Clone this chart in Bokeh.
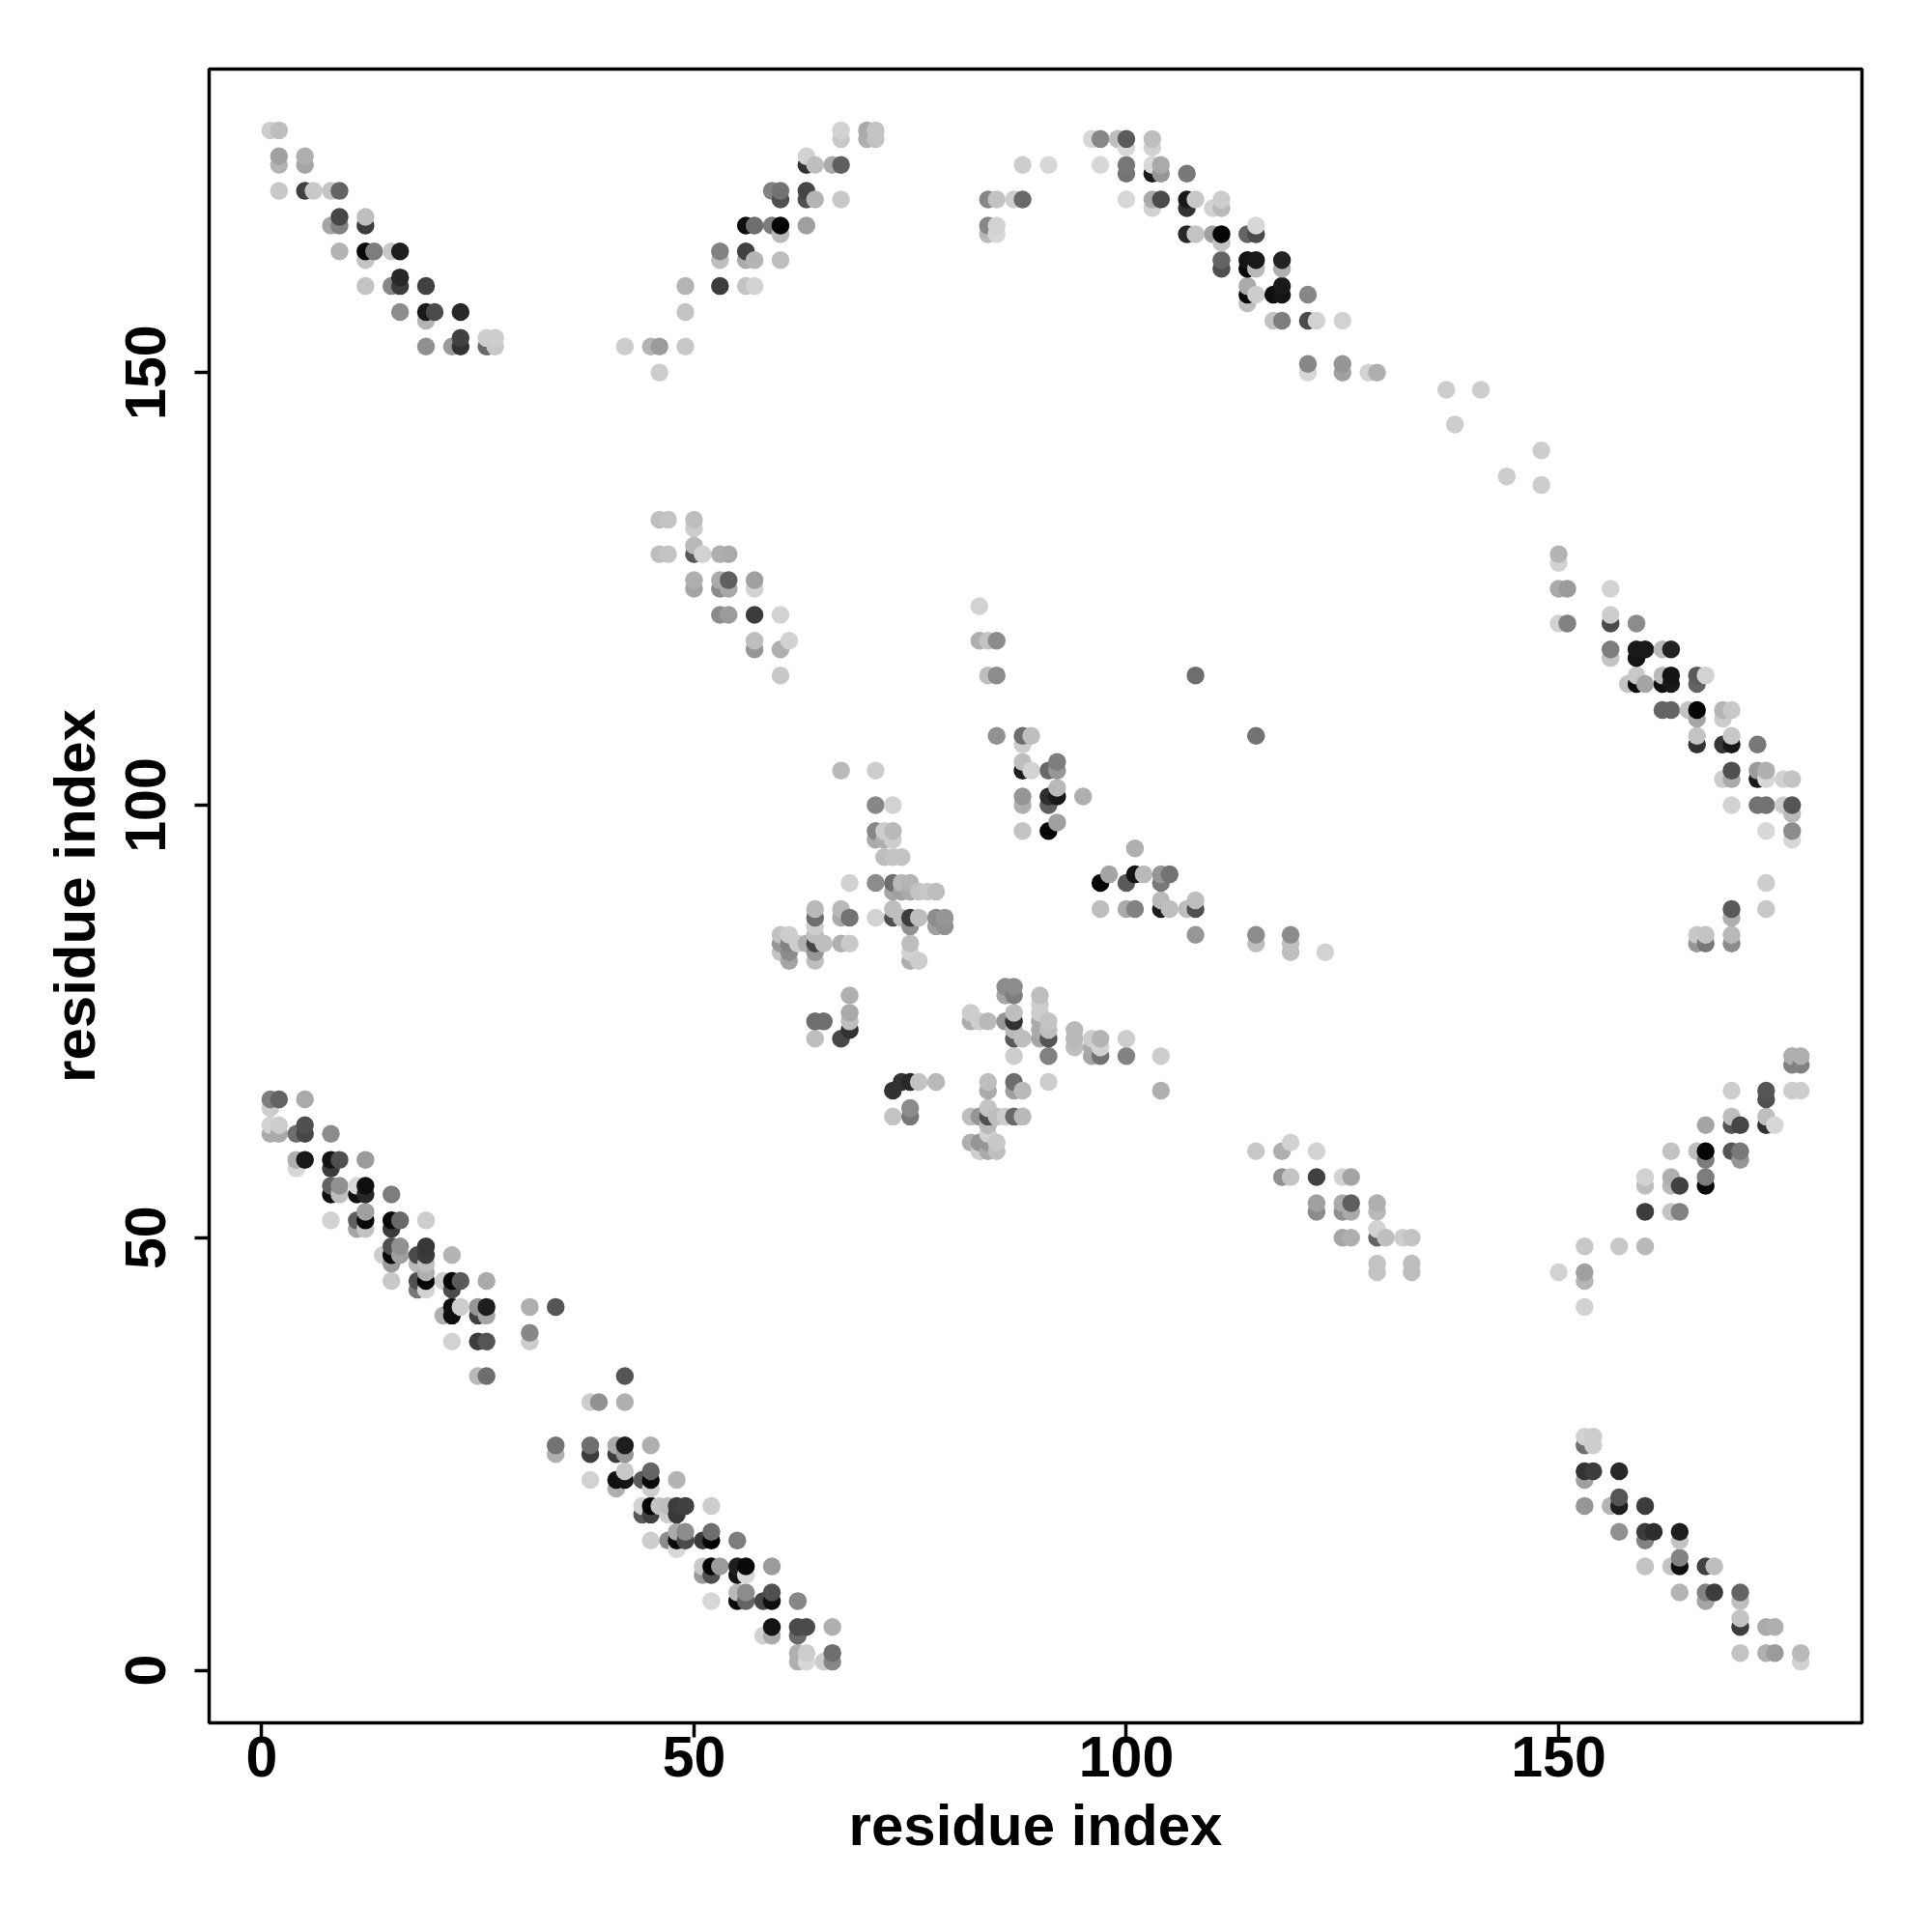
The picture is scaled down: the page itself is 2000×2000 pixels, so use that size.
from bokeh.embed import file_html
from bokeh.models import ColumnDataSource, FixedTicker, Range1d
from bokeh.plotting import figure
from bokeh.resources import INLINE

# Each contact: (residue x, residue y, grey level)
top_left = [
(1,178,205),(2,178,190),(2,175,160),(2,174,180),(5,175,175),(5,174,165),(2,171,200),(5,171,65),(6,171,200),
(8,171,195),(9,171,100),(8,167,165),(9,167,130),(9,168,70),(12,167,60),(12,168,190),(9,164,180),(12,164,10),
(12,163,195),(13,164,125),(15,164,200),(16,164,30),(12,160,195),(15,160,135),(16,160,60),(16,161,40),(19,160,65),
(16,157,140),(19,157,25),(19,156,180),(20,157,75),(23,157,40),(19,153,145),(22,153,155),(23,153,50),(23,154,65),
(26,153,105),(26,154,205),(27,154,205),(27,153,200),
]
top_mid = [
(42,153,205),(45,153,180),(46,153,155),(49,153,200),(46,150,205),(49,157,195),(49,160,180),(53,160,60),(56,160,195),
(57,160,210),(60,163,190),(57,163,180),(56,163,170),(56,164,65),(53,163,190),(53,164,130),(56,167,15),(57,167,110),
(59,167,125),(60,167,5),(60,166,185),(63,167,160),(59,171,130),(60,171,115),(60,170,80),(63,171,70),(63,170,80),
(64,170,180),(67,170,200),(63,175,210),(63,174,50),(64,174,190),(66,174,170),(67,174,95),(67,178,210),(67,177,200),
(70,178,170),(70,177,175),(71,178,195),(71,177,195),
]
top_right = [
(88,174,205),(91,174,215),(84,170,135),(85,170,195),(87,170,205),(88,170,105),(84,167,135),(84,166,185),(85,167,210),
(85,166,215),(96,177,215),(97,177,135),(99,177,190),(100,177,90),(100,176,215),(103,177,190),(103,176,210),(97,174,215),
(100,174,120),(100,173,115),(103,174,215),(103,173,25),(104,174,170),(104,173,150),(107,173,120),(100,170,215),
(103,170,170),(103,169,210),(104,170,75),(107,170,25),(107,169,50),(108,170,200),(110,169,210),(111,170,205),
(111,169,185),(107,166,40),(108,166,195),(110,166,160),(111,166,5),(111,165,195),(114,166,100),(115,166,75),
(115,167,215),(111,163,100),(111,162,80),(114,163,20),(114,162,10),(115,163,25),(115,162,185),(118,163,35),
(118,162,175),(114,160,170),(114,159,10),(114,158,190),(115,159,205),(117,159,15),(118,159,20),(118,160,25),
(121,159,135),(117,156,195),(118,156,125),(121,156,75),(122,156,210),(125,156,210),(121,151,135),(121,150,215),
(125,151,150),(125,150,160),(128,150,210),(129,150,175),
(137,148,205),(141,148,205),(138,144,205),(144,138,205),(148,141,205),(148,137,205),
]
mid_upper_left = [
(46,133,190),(47,133,195),(50,133,190),(50,132,205),(46,129,190),(47,129,195),(50,130,185),(50,129,90),(51,129,210),
(53,129,175),(54,129,170),(50,126,175),(50,125,165),(53,126,170),(53,125,140),(54,126,95),(54,125,170),(57,126,160),
(57,125,210),(53,122,140),(54,122,155),(57,122,60),(60,122,210),(57,119,190),(57,118,150),(60,118,175),(61,119,210),
(60,115,200),
]
right_upper = [
(150,129,180),(150,128,210),(150,125,170),(151,125,155),(156,125,210),(150,121,210),(151,121,130),(156,122,205),
(156,121,75),(159,121,140),(156,118,125),(156,117,195),(159,118,25),(159,117,20),(160,118,25),(162,118,185),(163,118,35),
(158,114,195),(159,115,200),(159,114,10),(160,114,165),(162,115,185),(162,114,15),(163,115,20),(163,114,25),
(166,115,90),(166,114,100),(167,115,210),(162,111,100),(163,111,100),(165,111,195),(166,111,5),(166,110,165),
(169,111,180),(169,110,205),(170,111,200),(166,108,195),(166,107,50),(169,107,55),(170,108,200),(170,107,25),
(173,107,120),(169,103,205),(170,104,80),(170,103,170),(173,104,155),(173,103,25),(174,104,175),(174,103,215),
(176,103,210),(177,103,195),(170,100,210),(173,100,115),(174,100,115),(176,100,205),(177,100,85),(177,99,185),
(174,97,215),(177,97,140),(177,96,215),
(166,84,150),(167,84,120),(166,85,200),(167,85,195),(170,88,90),(170,87,175),(170,85,185),(170,84,140),(174,88,200),(174,91,205),
]
centre_upper = [
(83,123,210),(83,119,175),(84,119,195),(85,119,140),(84,115,190),(85,115,140),(108,115,110),(85,108,145),(88,108,110),
(88,107,205),(89,108,190),(115,108,115),(88,105,190),(88,104,30),(89,104,210),(91,104,105),(92,105,125),(92,104,150),
(88,101,150),(88,100,175),(91,101,45),(91,100,95),(92,102,185),(92,101,25),(95,101,175),(88,97,195),(91,97,5),(92,98,160),
(101,95,175),(97,91,5),(98,92,165),(97,88,190),(100,88,170),(100,91,90),(101,92,20),(102,92,185),(101,88,130),(104,91,120),
(104,92,150),(105,92,115),(104,89,185),(104,88,30),(105,88,190),(107,88,190),(108,89,190),(108,88,80),(108,85,150),
(115,85,140),(115,84,190),(119,85,140),(119,84,190),(119,83,190),(123,83,210),
]
centre_left = [
(67,104,185),(71,104,205),(71,100,135),(73,100,210),(71,97,135),(71,96,170),(72,97,205),(72,96,175),(73,97,185),(73,96,205),
(72,94,190),(73,94,195),(74,94,195),(68,91,210),(71,91,140),(73,91,110),(73,90,165),(74,91,185),(74,90,160),(75,91,180),
(75,90,170),(76,90,195),(77,90,200),(78,90,190),(64,88,185),(64,87,110),(64,86,205),(67,88,185),(67,87,170),(68,87,115),
(71,87,210),(73,88,190),(73,87,80),(74,87,190),(75,87,60),(76,87,190),(75,86,145),(78,87,140),(78,86,160),(79,87,150),
(79,86,145),(75,84,190),(75,83,210),(75,82,175),(76,82,205),(67,84,175),(68,84,200),(60,85,195),(60,84,150),(60,83,195),
(61,85,205),(61,84,130),(61,83,140),(61,82,165),(62,84,205),(63,84,175),(64,84,70),(64,85,190),(64,83,150),(64,82,190),(65,84,190),
]
centre_lower = [
(86,79,140),(86,78,165),(87,79,140),(87,78,125),(90,78,190),(90,77,205),(90,76,205),(90,75,170),(90,74,170),(90,73,165),
(91,75,195),(91,74,190),(91,73,85),(82,76,205),(82,75,175),(83,75,205),(84,75,185),(86,75,150),(87,76,190),(87,75,50),
(87,74,185),(87,73,90),(88,73,190),(87,71,205),(91,71,130),(94,74,185),(94,73,185),(94,72,190),(96,73,205),(96,72,170),
(96,71,165),(97,73,180),(97,72,210),(97,71,115),(100,73,205),(100,71,130),(104,71,205),(104,67,175),(78,68,185),(84,68,190),
(84,67,170),(87,68,110),(87,67,160),(88,67,185),(91,68,205),(82,64,190),(83,64,150),(84,65,195),(84,64,80),(84,63,185),
(85,64,190),(86,64,205),(87,64,105),(88,64,185),(82,61,175),(83,61,150),(83,60,205),(84,62,210),(84,61,150),(84,60,170),
(85,61,200),(85,60,190),
(64,75,110),(65,75,110),(64,73,190),(67,73,70),(68,74,50),(68,75,190),(68,78,175),(68,76,170),
(73,67,50),(74,68,50),(75,68,40),(76,68,195),(73,64,195),(75,65,140),(75,64,120),
]
bottom_left = [
(1,66,125),(2,66,100),(5,66,170),(1,65,205),(1,63,210),(2,63,205),(1,62,170),(2,62,170),(4,62,110),(5,63,80),(5,62,70),
(8,62,140),(4,59,175),(4,58,215),(5,59,25),(8,59,20),(8,58,60),(9,59,80),(12,59,155),(8,56,100),(8,55,15),(9,56,145),
(9,55,190),(11,56,215),(11,55,15),(12,56,15),(12,55,40),(15,55,125),(8,52,210),(11,52,95),(11,51,165),(12,53,160),
(12,52,10),(12,51,195),(15,52,10),(15,51,60),(16,52,105),(19,52,205),(14,48,205),(15,49,80),(15,48,10),(15,47,155),
(16,49,145),(16,48,160),(18,48,75),(18,47,185),(19,49,55),(19,48,60),(19,47,190),(22,48,180),(15,45,200),(18,45,80),
(18,44,120),(19,46,175),(19,45,5),(19,44,210),(21,45,205),(22,45,5),(22,44,75),(23,45,90),(26,45,170),(21,41,175),
(22,42,15),(22,41,15),(23,42,205),(25,42,150),(25,41,65),(26,42,30),(26,41,165),(31,42,175),(34,42,85),(22,38,210),
(25,38,60),(26,38,85),(31,39,135),(31,38,205),(25,34,185),(26,34,110),
]
bottom_mid = [
(42,34,85),(38,31,205),(39,31,145),(42,31,175),(34,26,115),(34,25,175),(38,26,110),(38,25,60),(41,26,170),(41,25,60),
(42,26,30),(42,25,150),(45,26,175),(38,22,210),(41,22,15),(41,21,175),(42,23,200),(42,22,20),(44,22,90),(45,23,100),
(45,22,10),(45,21,205),(48,22,180),(44,19,210),(44,18,90),(45,19,5),(45,18,65),(46,19,195),(47,19,190),(47,18,205),
(48,19,60),(48,18,55),(49,19,65),(52,19,205),(45,15,205),(47,15,140),(48,16,170),(48,15,10),(48,14,215),(49,16,140),
(49,15,75),(51,15,60),(52,16,110),(52,15,5),(55,15,125),(51,12,200),(51,11,155),(52,12,5),(52,11,80),(53,12,155),
(55,12,30),(55,11,20),(56,12,10),(56,11,215),(59,12,155),(52,8,215),(55,9,185),(55,8,10),(56,9,140),(56,8,100),
(58,8,70),(59,9,80),(59,8,15),(62,8,135),(58,4,210),(59,5,20),(59,4,170),(62,5,75),(62,4,105),(63,5,75),(66,5,175),
(62,2,175),(62,1,175),(63,2,205),(63,1,215),(65,1,205),(66,2,110),(66,1,135),
]
mid_lower_right = [
(115,60,200),(118,60,175),(119,61,210),(122,60,210),(118,57,145),(119,57,195),(122,57,65),(125,57,210),(126,57,165),
(122,54,160),(122,53,140),(125,54,170),(125,53,145),(126,54,95),(126,53,170),(129,54,175),(129,53,185),(125,50,165),
(126,50,175),(129,51,210),(129,50,100),(130,50,190),(132,50,205),(133,50,195),(129,47,195),(129,46,195),(133,47,190),(133,46,190),
]
right_lower = [
(150,46,210),(153,46,160),(153,45,180),(153,49,200),(153,42,210),(157,49,200),(160,49,185),(160,53,60),(163,53,195),
(164,53,130),(160,57,210),(160,56,190),(163,57,175),(163,56,185),(164,56,65),(167,57,125),(167,56,10),(163,60,195),
(166,60,190),(167,60,5),(167,59,125),(170,60,85),(171,60,120),(171,59,150),(167,63,165),(170,63,85),(170,64,190),
(171,63,70),(174,63,50),(174,64,190),(175,63,215),(170,67,205),(174,67,85),(174,66,80),(177,67,205),(178,67,205),
(177,70,130),(178,70,130),(177,71,175),(178,71,175),
]
bottom_right = [
(153,27,210),(153,26,110),(154,27,205),(154,26,205),(153,23,50),(153,22,160),(154,23,60),(157,23,40),(153,19,150),
(156,19,180),(157,20,85),(157,19,30),(160,19,60),(157,16,145),(160,16,60),(160,15,130),(161,16,45),(164,16,30),
(164,15,195),(160,12,195),(163,12,195),(164,13,130),(164,12,15),(167,12,65),(168,12,190),(164,9,180),(167,9,130),
(167,8,165),(168,9,60),(171,9,100),(171,8,190),(171,6,195),(171,5,60),(174,5,170),(175,5,175),(171,2,195),(174,2,175),
(175,2,155),(178,2,185),(178,1,210),
]
tick_values = [0, 50, 100, 150]
axis_title = "residue index"

contacts = sorted(
    top_left + top_mid + top_right + mid_upper_left + right_upper + centre_upper + centre_left
    + centre_lower + bottom_left + bottom_mid + mid_lower_right + right_lower + bottom_right,
    key=lambda c: (c[0], c[1]),
)
source = ColumnDataSource(dict(
    x=[c[0] for c in contacts],
    y=[c[1] for c in contacts],
    color=["#%02x%02x%02x" % (c[2], c[2], c[2]) for c in contacts],
))

p = figure(
    width=1984, height=1984, output_backend="svg", toolbar_location=None,
    x_range=Range1d(-6.08, 185.08), y_range=Range1d(-6.08, 185.08),
    min_border_left=216, min_border_right=57, min_border_top=71, min_border_bottom=201,
    background_fill_color="white", border_fill_color="white",
)
p.scatter("x", "y", source=source, size=18.5, color="color", line_color=None)

p.grid.visible = False
p.outline_line_color = "black"
p.outline_line_width = 3.5
for ax in (p.xaxis[0], p.yaxis[0]):
    ax.ticker = FixedTicker(ticks=tick_values)
    ax.axis_line_color = None
    ax.major_tick_line_color = "black"
    ax.major_tick_line_width = 3.5
    ax.major_tick_out = 15
    ax.major_tick_in = 0
    ax.minor_tick_line_color = None
    ax.major_label_text_font = "Liberation Sans"
    ax.major_label_text_font_style = "bold"
    ax.major_label_text_font_size = "59px"
    ax.major_label_text_color = "black"
    ax.axis_label = axis_title
    ax.axis_label_text_font = "Liberation Sans"
    ax.axis_label_text_font_style = "bold"
    ax.axis_label_text_font_size = "60px"
    ax.axis_label_text_color = "black"
p.yaxis[0].major_label_orientation = "parallel"
p.xaxis[0].major_label_standoff = -1
p.yaxis[0].major_label_standoff = 30
p.xaxis[0].axis_label_standoff = 14
p.yaxis[0].axis_label_standoff = 17

open("out.html", "w").write(file_html(p, INLINE))
